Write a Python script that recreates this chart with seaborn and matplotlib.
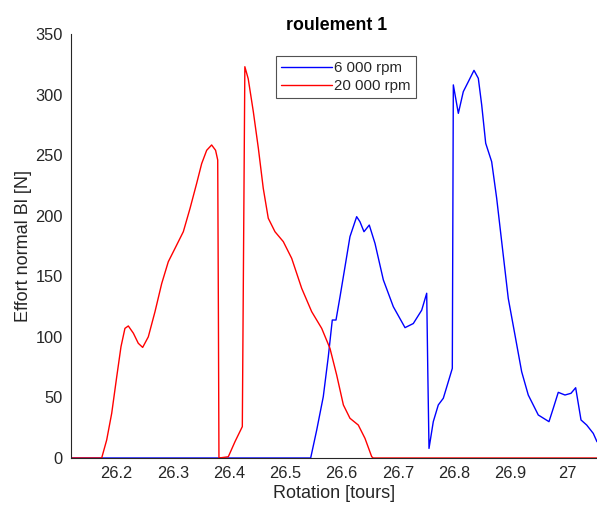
import numpy as np
import pandas as pd
import matplotlib
matplotlib.use("Agg")
import matplotlib.pyplot as plt
import seaborn as sns

# ---- data ----
x_6000 = [26.1192, 26.5449, 26.5556, 26.5673, 26.5762, 26.5833, 26.5899, 26.5970, 26.6059, 26.6147,
          26.6266, 26.6325, 26.6396, 26.6490, 26.6592, 26.6740, 26.6917, 26.7125, 26.7272, 26.7421,
          26.7510, 26.7530, 26.7551, 26.7627, 26.7716, 26.7805, 26.7894, 26.7965, 26.7983, 26.8072,
          26.8160, 26.8249, 26.8350, 26.8427, 26.8487, 26.8558, 26.8664, 26.8753, 26.8842, 26.8959,
          26.9078, 26.9197, 26.9314, 26.9492, 26.9682, 26.9758, 26.9847, 26.9966, 27.0073, 27.0156,
          27.0251, 27.0352, 27.0469, 27.0535]
y_6000 = [0, 0, 23, 50.6, 83.6, 113.9, 113.9, 133, 157.9, 182.7,
          199.2, 195, 186.8, 192.3, 177.1, 147, 124.9, 107.6, 111, 122,
          136, 70, 7.9, 30, 43.8, 49.3, 63, 74, 308, 284.5,
          302.4, 310.6, 320, 313.4, 291.4, 259.8, 244.6, 214.4, 178.6, 131.7,
          101.5, 71.2, 52, 35.5, 30, 41, 54.2, 52, 53.4, 58,
          31.4, 27.2, 20.3, 13.4]

x_20000 = [26.1192, 26.1737, 26.1826, 26.1915, 26.2004, 26.2080, 26.2150, 26.2210, 26.2300, 26.2387,
           26.2465, 26.2565, 26.2684, 26.2803, 26.2920, 26.3039, 26.3187, 26.3306, 26.3424, 26.3513,
           26.3602, 26.3690, 26.3760, 26.3798, 26.3810, 26.3820, 26.3986, 26.4105, 26.4235, 26.4280,
           26.4340, 26.4430, 26.4520, 26.4607, 26.4696, 26.4815, 26.4963, 26.5112, 26.5290, 26.5467,
           26.5645, 26.5792, 26.5911, 26.6030, 26.6147, 26.6295, 26.6414, 26.6533, 26.6560, 27.0535]
y_20000 = [0, 0, 14.9, 36.9, 67, 91.9, 107, 109, 103, 94.7,
           91.3, 100, 120.8, 144, 162, 173, 186.8, 206, 226.7, 243,
           254, 258.4, 254, 246, 120, 0, 1, 13.5, 25.9, 323,
           313, 286, 255.6, 222.6, 197.9, 186.8, 178.6, 164.8, 140, 120.8,
           107, 90.5, 68.5, 43.8, 32.8, 27.2, 16.2, 1.1, 0, 0]

series_names = ["6 000 rpm", "20 000 rpm"]
series_colors = ["#0000ff", "#ff0000"]
x_ticks = [26.2, 26.3, 26.4, 26.5, 26.6, 26.7, 26.8, 26.9, 27.0]
x_tick_labels = ["26.2", "26.3", "26.4", "26.5", "26.6", "26.7", "26.8", "26.9", "27"]
y_ticks = [0, 50, 100, 150, 200, 250, 300, 350]
x_range = (26.1192, 27.0535)
y_range = (0, 350)

sns.set_style("white")
plt.rcParams['font.family'] = ['Liberation Sans', 'DejaVu Sans']
txt = "#262626"

df = pd.concat([
    pd.DataFrame({"x": x_6000, "y": y_6000, "s": series_names[0]}),
    pd.DataFrame({"x": x_20000, "y": y_20000, "s": series_names[1]}),
], ignore_index=True)

fig = plt.figure(figsize=(5.97, 5.08), dpi=100)
ax = fig.add_axes([71/597, 1 - 458/508, 1 - 71/597, (458 - 34)/508])

sns.lineplot(data=df, x="x", y="y", hue="s", palette=series_colors, hue_order=series_names,
             estimator=None, sort=False, units="s", linewidth=1.0, ax=ax)

ax.set_xlim(*x_range)
ax.set_ylim(*y_range)
ax.set_xticks(x_ticks)
ax.set_xticklabels(x_tick_labels)
ax.set_yticks(y_ticks)
for s in ["top", "right"]:
    ax.spines[s].set_visible(False)
for s in ["left", "bottom"]:
    ax.spines[s].set_color(txt)
    ax.spines[s].set_linewidth(0.8)
ax.tick_params(direction="in", length=5, width=0.8, colors=txt, labelsize=11.8, pad=6)

ax.set_xlabel("Rotation [tours]", fontsize=13, color=txt, labelpad=3)
ax.set_ylabel("Effort normal Bl [N]", fontsize=13, color=txt, labelpad=2)
ax.set_title("roulement 1", fontsize=12.8, fontweight="bold", color="black", pad=3,
             x=(337 - 71) / 526)

leg = ax.legend(loc="upper left", bbox_to_anchor=((276 - 71) / 526, 1 - (56 - 34) / 424),
                fontsize=10.8, frameon=True, fancybox=False, handlelength=3.4, handletextpad=0.15,
                borderpad=0.35, labelspacing=0.25, borderaxespad=0)
leg.get_frame().set_edgecolor(txt)
leg.get_frame().set_linewidth(0.8)
leg.set_title(None)
for t in leg.get_texts():
    t.set_color(txt)

fig.savefig("out.png", dpi=100)
